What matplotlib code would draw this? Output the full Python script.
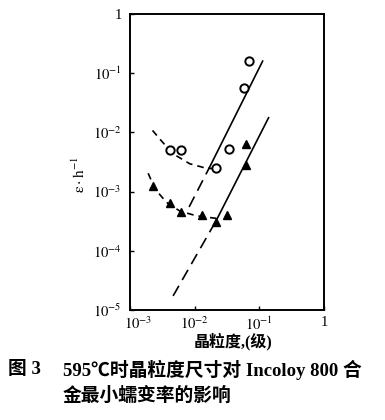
import matplotlib
matplotlib.use('Agg')
import matplotlib.pyplot as plt
from matplotlib.transforms import ScaledTranslation

plt.rcParams['font.family'] = ['Liberation Serif', 'Noto Sans CJK SC']
plt.rcParams['mathtext.fontset'] = 'stix'

# measured points
circle_x = [0.0041, 0.0061, 0.021, 0.0337, 0.0587, 0.0684]
circle_y = [0.0050, 0.0050, 0.0025, 0.0052, 0.057, 0.162]
tri_x = [0.00223, 0.0042, 0.0061, 0.0128, 0.0216, 0.0314, 0.0624, 0.0624]
tri_y = [0.00126, 0.00064, 0.00046, 0.00040, 0.00031, 0.00041, 0.0028, 0.0064]

# fitted lines (solid part + dashed extrapolation)
upper_solid_x = [0.017, 0.1125]
upper_solid_y = [0.00258, 0.16]
upper_dash_x = [0.0082, 0.017]
upper_dash_y = [0.00055, 0.00258]
lower_solid_x = [0.0215, 0.139]
lower_solid_y = [0.000323, 0.0177]
lower_dash_x = [0.00464, 0.0215]
lower_dash_y = [1.73e-5, 0.000323]

# hand drawn trend curves at small grain size
upper_curve_x = [0.00223, 0.0032, 0.00464, 0.0084, 0.0151, 0.021]
upper_curve_y = [0.0108, 0.0068, 0.00435, 0.00295, 0.00248, 0.00243]
lower_curve_x = [0.00191, 0.00243, 0.00366, 0.00588, 0.0106, 0.0216]
lower_curve_y = [0.00204, 0.00111, 0.00066, 0.00047, 0.00039, 0.000353]

xticks = [1e-3, 1e-2, 1e-1, 1]
xticklabels = ['$10^{-3}$', '$10^{-2}$', '$10^{-1}$', '1']
yticks = [1e-5, 1e-4, 1e-3, 1e-2, 1e-1, 1]
yticklabels = ['$10^{-5}$', '$10^{-4}$', '$10^{-3}$', '$10^{-2}$', '$10^{-1}$', '1']

fig = plt.figure(figsize=(3.85, 4.2), dpi=100)
ax = fig.add_axes([130 / 385, 1 - 310 / 420, 194 / 385, 296 / 420])

ax.plot(upper_solid_x, upper_solid_y, color='black', lw=1.2)
ax.plot(lower_solid_x, lower_solid_y, color='black', lw=1.2)
ax.plot(upper_dash_x, upper_dash_y, color='black', lw=1.2, dashes=(7, 4))
ax.plot(lower_dash_x, lower_dash_y, color='black', lw=1.2, dashes=(7, 4))
ax.plot(upper_curve_x, upper_curve_y, color='black', lw=1.2, dashes=(4, 3))
ax.plot(lower_curve_x, lower_curve_y, color='black', lw=1.2, dashes=(4, 3))

ax.plot(circle_x, circle_y, 'o', ms=6, mfc='white', mec='black', mew=1.4, ls='none')
ax.plot(tri_x, tri_y, '^', ms=5.5, color='black', ls='none')

ax.set_xscale('log')
ax.set_yscale('log')
ax.set_xlim(1e-3, 1)
ax.set_ylim(1e-5, 1)
ax.set_xticks(xticks)
ax.set_xticklabels(xticklabels)
ax.set_yticks(yticks)
ax.set_yticklabels(yticklabels)
ax.minorticks_off()
ax.tick_params(direction='in', length=3, width=1, labelsize=10.5)
ax.tick_params(axis='y', pad=6)
ax.tick_params(axis='x', pad=4)
for s in ax.spines.values():
    s.set_linewidth(1.4)

# first x label sits a bit to the right in the original
lbl = ax.get_xticklabels()[0]
lbl.set_transform(lbl.get_transform() + ScaledTranslation(6 / 72, 0, fig.dpi_scale_trans))

fig.text(79 / 385, 1 - 175 / 420, r'$\mathrm{\varepsilon \cdot h^{-1}}$', rotation=90,
         ha='center', va='center', fontsize=11)
fig.text(233 / 385, 1 - 342 / 420, '晶粒度,(级)', ha='center', va='center',
         fontsize=11.5, fontweight='bold')

fig.text(8 / 385, 1 - 370 / 420, '图 3', ha='left', va='center',
         fontsize=13.5, fontweight='bold')
fig.text(63 / 385, 1 - 370 / 420, '595℃时晶粒度尺寸对 Incoloy 800 合', ha='left',
         va='center', fontsize=13.5, fontweight='bold')
fig.text(63 / 385, 1 - 396 / 420, '金最小蠕变率的影响', ha='left', va='center',
         fontsize=13.5, fontweight='bold')

fig.savefig('out.png', dpi=100)
